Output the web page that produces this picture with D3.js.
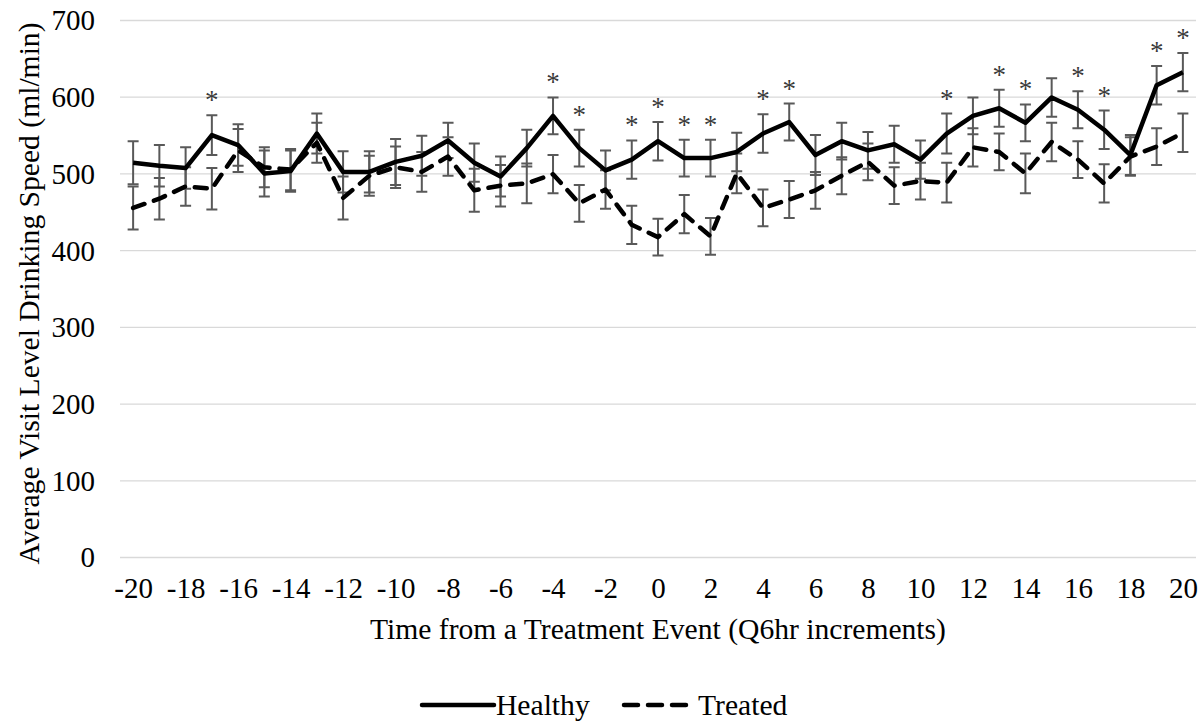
<!DOCTYPE html>
<html>
<head>
<meta charset="utf-8">
<script src="https://cdn.jsdelivr.net/npm/d3@7"></script>
<style>
  html, body { margin: 0; padding: 0; background: #ffffff; }
  svg { display: block; }
  text { font-family: "Liberation Serif", "Times New Roman", serif; fill: #000; }
</style>
</head>
<body>
<svg id="chart" width="1199" height="722"></svg>
<script>
// Time from a treatment event, in 6-hour increments
const timePoints = d3.range(-20, 21);

// Mean visit-level drinking speed (ml/min) and standard error, healthy group
const healthy = [514, 510, 507, 550, 537, 500, 503, 552, 502, 502,
                 515, 523, 543, 514, 496, 533, 575, 533, 504, 518,
                 542, 520, 520, 528, 552, 567, 524, 542, 530, 538,
                 518, 552, 575, 585, 566, 599, 583, 557, 524, 615, 632];
const healthyErr = [28, 27, 27, 26, 27, 30, 27, 26, 27, 27,
                    30, 26, 23, 25, 26, 24, 24, 24, 26, 25,
                    25, 24, 24, 25, 25, 24, 26, 24, 24, 24,
                    25, 26, 24, 24, 24, 25, 24, 25, 26, 25, 25];

// Mean visit-level drinking speed (ml/min) and standard error, treated group
const treated = [455, 467, 483, 480, 530, 508, 505, 540, 468, 497,
                 508, 502, 522, 478, 484, 487, 499, 461, 479, 433,
                 417, 447, 418, 500, 455, 466, 478, 497, 515, 484,
                 490, 488, 534, 528, 500, 541, 518, 487, 522, 535, 553];
const treatedErr = [28, 27, 25, 27, 28, 26, 27, 26, 28, 26,
                    27, 26, 25, 28, 27, 26, 25, 24, 25, 25,
                    24, 25, 24, 26, 24, 24, 24, 24, 24, 24,
                    24, 26, 25, 24, 26, 25, 24, 25, 25, 24, 25];

// Time points where the two groups differ significantly
const significant = [-17, -4, -3, -1, 0, 1, 2, 4, 5, 11, 13, 14, 16, 17, 19, 20];

// Axis ticks
const yTicks = [0, 100, 200, 300, 400, 500, 600, 700];
const xTickLabels = d3.range(-20, 21, 2);

const seriesNames = ["Healthy", "Treated"];

const svg = d3.select("#chart");
const plot = { left: 120, right: 1196, top: 20, bottom: 557 };
const tickFont = 29;
const titleFont = 29.6;

const x = d3.scalePoint()
  .domain(timePoints)
  .range([plot.left, plot.right])
  .padding(0.5);

const y = d3.scaleLinear()
  .domain([0, 700])
  .range([plot.bottom, plot.top]);

// Horizontal gridlines
svg.append("g")
  .selectAll("line")
  .data(yTicks)
  .join("line")
  .attr("x1", plot.left)
  .attr("x2", plot.right)
  .attr("y1", d => y(d) + 0.5)
  .attr("y2", d => y(d) + 0.5)
  .attr("stroke", "#d9d9d9")
  .attr("stroke-width", 1.3);

// Y axis labels
const yAxis = d3.axisLeft(y).tickValues(yTicks).tickSize(0).tickPadding(0);
const gy = svg.append("g")
  .attr("transform", `translate(95,0)`)
  .call(yAxis);
gy.select(".domain").remove();
gy.selectAll("text")
  .attr("font-family", "Liberation Serif, Times New Roman, serif")
  .attr("font-size", tickFont)
  .attr("fill", "#000")
  .attr("dy", "0.34em");

// X axis labels (every other time point)
const xAxis = d3.axisBottom(x).tickValues(xTickLabels).tickSize(0).tickPadding(0);
const gx = svg.append("g")
  .attr("transform", `translate(0,577)`)
  .call(xAxis);
gx.select(".domain").remove();
gx.selectAll("text")
  .attr("font-family", "Liberation Serif, Times New Roman, serif")
  .attr("font-size", tickFont)
  .attr("fill", "#000")
  .attr("dy", "0.71em");

// Axis titles
svg.append("text")
  .attr("x", (plot.left + plot.right) / 2)
  .attr("y", 639)
  .attr("text-anchor", "middle")
  .attr("font-size", titleFont)
  .text("Time from a Treatment Event (Q6hr increments)");

svg.append("text")
  .attr("transform", `translate(39,${(plot.top + plot.bottom) / 2 + 5}) rotate(-90)`)
  .attr("text-anchor", "middle")
  .attr("font-size", titleFont)
  .text("Average Visit Level Drinking Speed (ml/min)");

// Error bars
function errorBars(values, errs) {
  const g = svg.append("g")
    .attr("stroke", "#595959")
    .attr("stroke-width", 2)
    .attr("fill", "none");
  const rows = timePoints.map((t, i) => ({ t, v: values[i], e: errs[i] }));
  g.selectAll("path")
    .data(rows)
    .join("path")
    .attr("d", d => {
      const cx = x(d.t), hi = y(d.v + d.e), lo = y(d.v - d.e), c = 5.5;
      return `M${cx},${hi}V${lo}M${cx - c},${hi}H${cx + c}M${cx - c},${lo}H${cx + c}`;
    });
}
errorBars(healthy, healthyErr);
errorBars(treated, treatedErr);

// Series lines
const line = d3.line()
  .x((d, i) => x(timePoints[i]))
  .y(d => y(d));

svg.append("path")
  .datum(treated)
  .attr("d", line)
  .attr("fill", "none")
  .attr("stroke", "#000")
  .attr("stroke-width", 4.5)
  .attr("stroke-linecap", "round")
  .attr("stroke-linejoin", "round")
  .attr("stroke-dasharray", "12,10");

svg.append("path")
  .datum(healthy)
  .attr("d", line)
  .attr("fill", "none")
  .attr("stroke", "#000")
  .attr("stroke-width", 4.5)
  .attr("stroke-linejoin", "round");

// Significance markers above the healthy error bars
svg.append("g")
  .selectAll("text")
  .data(significant)
  .join("text")
  .attr("x", t => x(t))
  .attr("y", t => {
    const i = timePoints.indexOf(t);
    return y(healthy[i] + healthyErr[i]) - 6;
  })
  .attr("text-anchor", "middle")
  .attr("font-size", 27)
  .style("fill", "#3a3a3a")
  .text("*");

// Legend
const legend = svg.append("g");
legend.append("line")
  .attr("x1", 422).attr("x2", 494)
  .attr("y1", 705).attr("y2", 705)
  .attr("stroke", "#000").attr("stroke-width", 4.5).attr("stroke-linecap", "round");
legend.append("text")
  .attr("x", 496).attr("y", 715)
  .attr("font-size", titleFont)
  .text(seriesNames[0]);
legend.append("line")
  .attr("x1", 624).attr("x2", 690)
  .attr("y1", 705).attr("y2", 705)
  .attr("stroke", "#000").attr("stroke-width", 4.5).attr("stroke-linecap", "round")
  .attr("stroke-dasharray", "14,10");
legend.append("text")
  .attr("x", 698).attr("y", 715)
  .attr("font-size", titleFont)
  .text(seriesNames[1]);
</script>
</body>
</html>
